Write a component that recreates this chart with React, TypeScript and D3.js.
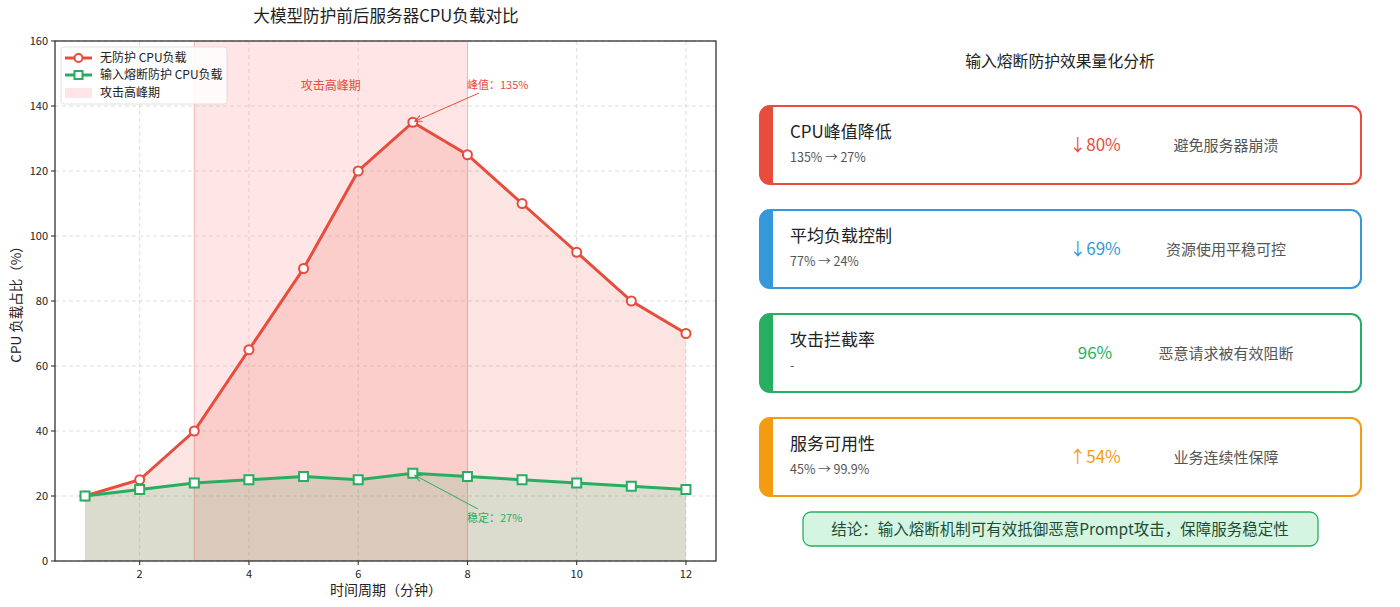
import React from 'react';
import * as d3 from 'd3';

const minutes = [1, 2, 3, 4, 5, 6, 7, 8, 9, 10, 11, 12];
const noProtect = [20, 25, 40, 65, 90, 120, 135, 125, 110, 95, 80, 70];
const withBreaker = [20, 22, 24, 25, 26, 25, 27, 26, 25, 24, 23, 22];
const xTicks = [2, 4, 6, 8, 10, 12];
const yTicks = [0, 20, 40, 60, 80, 100, 120, 140, 160];
const attackSpan = [3, 8];

const cardTitles = ['CPU峰值降低', '平均负载控制', '攻击拦截率', '服务可用性'];
const cardSubs = ['135% → 27%', '77% → 24%', '-', '45% → 99.9%'];
const cardValues = ['↓80%', '↓69%', '96%', '↑54%'];
const cardNotes = ['避免服务器崩溃', '资源使用平稳可控', '恶意请求被有效阻断', '业务连续性保障'];
const cardColors = ['#e74c3c', '#3498db', '#27ae60', '#f39c12'];

const RED = '#e74c3c';
const GREEN = '#27ae60';
const FONT = '"Noto Sans CJK SC", "DejaVu Sans", sans-serif';

export default function App() {
  const W = 1400;
  const H = 607;
  const m = { left: 55, right: 716, top: 41, bottom: 561 };

  const x = d3.scaleLinear().domain([0.45, 12.55]).range([m.left, m.right]);
  const y = d3.scaleLinear().domain([0, 160]).range([m.bottom, m.top]);

  const line = d3.line<number>().x((_, i) => x(minutes[i])).y((d) => y(d));
  const area = d3
    .area<number>()
    .x((_, i) => x(minutes[i]))
    .y0(y(0))
    .y1((d) => y(d));

  const cardX = 760;
  const cardW = 601;
  const cardH = 78;
  const cardY = (i: number) => 106 + i * 104;

  return (
    <svg width={W} height={H} style={{ position: 'absolute', left: 0, top: 0, fontFamily: FONT }}>
      <rect width={W} height={H} fill="#fff" />
      {/* left chart */}
      <text x={386} y={22} textAnchor="middle" fontSize={16.6} fill="#222">
        大模型防护前后服务器CPU负载对比
      </text>
      {/* grid */}
      {xTicks.map((t) => (
        <line key={'gx' + t} x1={x(t)} x2={x(t)} y1={m.top} y2={m.bottom} stroke="#ccc" strokeDasharray="4,3" strokeWidth={0.8} opacity={0.8} />
      ))}
      {yTicks.map((t) => (
        <line key={'gy' + t} x1={m.left} x2={m.right} y1={y(t)} y2={y(t)} stroke="#ccc" strokeDasharray="4,3" strokeWidth={0.8} opacity={0.8} />
      ))}
      {/* attack span */}
      <rect x={x(attackSpan[0])} y={m.top} width={x(attackSpan[1]) - x(attackSpan[0])} height={m.bottom - m.top} fill="#ff9999" opacity={0.25} />
      <line x1={x(attackSpan[0])} x2={x(attackSpan[0])} y1={m.top} y2={m.bottom} stroke="#f4b6b6" strokeWidth={1} />
      <line x1={x(attackSpan[1])} x2={x(attackSpan[1])} y1={m.top} y2={m.bottom} stroke="#f4b6b6" strokeWidth={1} />
      {/* fills */}
      <path d={area(noProtect) ?? ''} fill={RED} opacity={0.15} />
      <path d={area(withBreaker) ?? ''} fill={GREEN} opacity={0.15} />
      {/* lines */}
      <path d={line(noProtect) ?? ''} fill="none" stroke={RED} strokeWidth={3} />
      <path d={line(withBreaker) ?? ''} fill="none" stroke={GREEN} strokeWidth={3} />
      {noProtect.map((v, i) => (
        <circle key={'c' + i} cx={x(minutes[i])} cy={y(v)} r={4.5} fill="#fff" stroke={RED} strokeWidth={2} />
      ))}
      {withBreaker.map((v, i) => (
        <rect key={'s' + i} x={x(minutes[i]) - 4.5} y={y(v) - 4.5} width={9} height={9} fill="#fff" stroke={GREEN} strokeWidth={2} />
      ))}
      {/* annotations */}
      <text x={(x(attackSpan[0]) + x(attackSpan[1])) / 2} y={90} textAnchor="middle" fontSize={12} fill={RED}>
        攻击高峰期
      </text>
      <defs>
        <marker id="arR" viewBox="0 0 10 10" refX={9} refY={5} markerWidth={8} markerHeight={8} orient="auto">
          <path d="M0,1 L9,5 L0,9" fill="none" stroke={RED} strokeWidth={1.3} />
        </marker>
        <marker id="arG" viewBox="0 0 10 10" refX={9} refY={5} markerWidth={8} markerHeight={8} orient="auto">
          <path d="M0,1 L9,5 L0,9" fill="none" stroke={GREEN} strokeWidth={1.3} />
        </marker>
      </defs>
      <line x1={479} y1={93} x2={x(7) + 2} y2={y(135) - 1} stroke={RED} strokeWidth={1} markerEnd="url(#arR)" />
      <text x={467} y={89} fontSize={11} fill={RED}>峰值：135%</text>
      <line x1={478} y1={509} x2={x(7) + 2} y2={y(27) + 2} stroke={GREEN} strokeWidth={1} markerEnd="url(#arG)" />
      <text x={467} y={522} fontSize={11} fill={GREEN}>稳定：27%</text>
      {/* axes frame */}
      <rect x={m.left} y={m.top} width={m.right - m.left} height={m.bottom - m.top} fill="none" stroke="#222" strokeWidth={1.2} />
      {xTicks.map((t) => (
        <g key={'xt' + t}>
          <line x1={x(t)} x2={x(t)} y1={m.bottom} y2={m.bottom + 4} stroke="#222" />
          <text x={x(t)} y={m.bottom + 17} textAnchor="middle" fontSize={11} fill="#222">{t}</text>
        </g>
      ))}
      {yTicks.map((t) => (
        <g key={'yt' + t}>
          <line x1={m.left - 4} x2={m.left} y1={y(t)} y2={y(t)} stroke="#222" />
          <text x={m.left - 7} y={y(t) + 4} textAnchor="end" fontSize={11} fill="#222">{t}</text>
        </g>
      ))}
      <text x={386} y={595} textAnchor="middle" fontSize={14} fill="#222">时间周期（分钟）</text>
      <text transform={`translate(21,${(m.top + m.bottom) / 2}) rotate(-90)`} textAnchor="middle" fontSize={13.5} fill="#222">
        CPU 负载占比（%）
      </text>
      {/* legend */}
      <g>
        <rect x={61} y={47} width={166} height={57} rx={3} fill="#fff" opacity={0.85} stroke="#ddd" />
        <line x1={65} x2={92} y1={58} y2={58} stroke={RED} strokeWidth={3} />
        <circle cx={78.5} cy={58} r={4} fill="#fff" stroke={RED} strokeWidth={2} />
        <text x={100} y={62} fontSize={12} fill="#222">无防护 CPU负载</text>
        <line x1={65} x2={92} y1={75} y2={75} stroke={GREEN} strokeWidth={3} />
        <rect x={74.5} y={71} width={8} height={8} fill="#fff" stroke={GREEN} strokeWidth={2} />
        <text x={100} y={79} fontSize={12} fill="#222">输入熔断防护 CPU负载</text>
        <rect x={65} y={88} width={27} height={10} fill="#ff9999" opacity={0.25} />
        <text x={100} y={97} fontSize={12} fill="#222">攻击高峰期</text>
      </g>

      {/* right panel */}
      <text x={1060} y={67} textAnchor="middle" fontSize={15.8} fill="#222">输入熔断防护效果量化分析</text>
      {cardTitles.map((title, i) => {
        const cy = cardY(i);
        const c = cardColors[i];
        return (
          <g key={'card' + i}>
            <rect x={cardX} y={cy} width={cardW} height={cardH} rx={10} fill="#fff" stroke={c} strokeWidth={2} />
            <path
              d={`M${cardX + 10},${cy} L${cardX + 13},${cy} L${cardX + 13},${cy + cardH} L${cardX + 10},${cy + cardH} A10,10 0 0 1 ${cardX},${cy + cardH - 10} L${cardX},${cy + 10} A10,10 0 0 1 ${cardX + 10},${cy} Z`}
              fill={c}
            />
            <text x={790} y={cy + 32} fontSize={17} fill="#222">{title}</text>
            <text x={790} y={cy + 56} fontSize={12.5} fill="#555">{cardSubs[i]}</text>
            <text x={1095} y={cy + 45} textAnchor="middle" fontSize={17} fill={c}>{cardValues[i]}</text>
            <text x={1226} y={cy + 45} textAnchor="middle" fontSize={15} fill="#555">{cardNotes[i]}</text>
          </g>
        );
      })}
      <rect x={803} y={512} width={515} height={34} rx={8} fill="#d5f5e3" stroke={GREEN} strokeWidth={1.3} />
      <text x={1060} y={535} textAnchor="middle" fontSize={15.5} fill="#1e4d33">
        结论：输入熔断机制可有效抵御恶意Prompt攻击，保障服务稳定性
      </text>
    </svg>
  );
}
